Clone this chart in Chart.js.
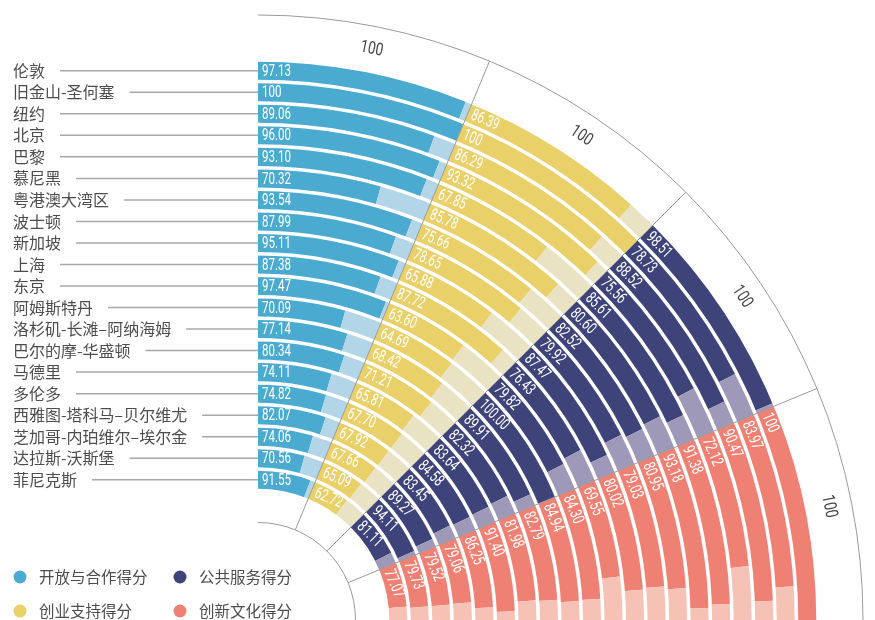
<!DOCTYPE html>
<html><head><meta charset="utf-8">
<script src="https://cdn.jsdelivr.net/npm/chart.js@4"></script>
<style>html,body{margin:0;padding:0;background:#fff;} #wrap{position:relative;width:875px;height:620px;}</style>
</head><body><div id="wrap"><canvas id="c" width="875" height="620"></canvas></div>
<script>
const cities = ['伦敦','旧金山-圣何塞','纽约','北京','巴黎','慕尼黑','粤港澳大湾区','波士顿','新加坡','上海','东京','阿姆斯特丹','洛杉矶-长滩–阿纳海姆','巴尔的摩-华盛顿','马德里','多伦多','西雅图-塔科马–贝尔维尤','芝加哥-内珀维尔–埃尔金','达拉斯-沃斯堡','菲尼克斯'];
const openness = ['97.13','100','89.06','96.00','93.10','70.32','93.54','87.99','95.11','87.38','97.47','70.09','77.14','80.34','74.11','74.82','82.07','74.06','70.56','91.55'];
const startup = ['86.39','100','86.29','93.32','67.85','85.78','75.66','78.65','65.88','87.72','63.60','64.69','68.42','71.21','65.81','67.70','67.92','67.66','65.09','62.72'];
const publicService = ['98.51','78.73','88.52','75.56','85.61','80.60','82.52','79.92','87.47','76.43','79.82','100.00','89.91','82.32','83.64','84.58','83.45','89.27','94.11','81.11'];
const innovation = ['100','83.97','90.47','72.12','91.38','93.18','80.95','79.03','80.02','69.55','84.30','84.94','82.79','81.98','91.40','86.25','79.06','79.52','79.73','77.07'];
const seriesNames = ['开放与合作得分','创业支持得分','公共服务得分','创新文化得分'];
const sectorMaxLabels = ['100','100','100','100'];
const SECTOR_MAX = 100;

const colors = ['#4BAACF','#E9D068','#3E4479','#EF8174'];
const lightColors = ['#B2D5E7','#E9E2C3','#9E99B8','#F5C2B5'];
const series = [openness, startup, publicService, innovation];

const datasets = cities.map((city, i) => {
  const data = [], bg = [];
  series.forEach((s, k) => {
    const v = Number(s[i]);
    data.push(v, SECTOR_MAX - v);
    bg.push(colors[k], lightColors[k]);
  });
  return { label: city, data, backgroundColor: bg, borderWidth: 0, hoverOffset: 0 };
});

const NUM_FONT = '16.5px "Roboto", "Liberation Sans", sans-serif';
const NUM_SQUEEZE = 0.7;
const CJK_FONT = '"Noto Sans CJK SC", "Noto Sans", sans-serif';

const decor = {
  id: 'decor',
  afterDatasetsDraw(chart) {
    const ctx = chart.ctx;
    const metas = chart.data.datasets.map((d, i) => chart.getDatasetMeta(i));
    const first = metas[0].data;
    const cx = first[0].x, cy = first[0].y;
    const Rout = first[0].outerRadius;
    const Rin = metas[metas.length - 1].data[0].innerRadius;
    const a0 = first[0].startAngle, a1 = first[7].endAngle;
    const outerArcR = Rout + 45, innerArcR = Rin - 32;
    ctx.save();
    // white gaps between rings
    ctx.strokeStyle = '#fff';
    ctx.lineWidth = 3.5;
    const bounds = metas.map(m => m.data[0].outerRadius).concat([Rin]);
    bounds.forEach(r => { ctx.beginPath(); ctx.arc(cx, cy, r, a0, a1); ctx.stroke(); });
    // outer & inner guide arcs
    ctx.strokeStyle = '#9a9a9a';
    ctx.lineWidth = 1;
    [outerArcR, innerArcR].forEach(r => { ctx.beginPath(); ctx.arc(cx, cy, r, a0, a1); ctx.stroke(); });
    // sector separators
    for (let k = 1; k < 4; k++) {
      const a = first[2 * k].startAngle;
      ctx.beginPath();
      ctx.moveTo(cx + innerArcR * Math.cos(a), cy + innerArcR * Math.sin(a));
      ctx.lineTo(cx + outerArcR * Math.cos(a), cy + outerArcR * Math.sin(a));
      ctx.stroke();
    }
    // "100" sector max labels
    ctx.fillStyle = '#444';
    ctx.font = '17.5px "Roboto", "Liberation Sans", sans-serif';
    ctx.textAlign = 'center';
    ctx.textBaseline = 'middle';
    for (let k = 0; k < 4; k++) {
      const a = (first[2 * k].startAngle + first[2 * k + 1].endAngle) / 2;
      const r = Rout + 22;
      ctx.save();
      ctx.translate(cx + r * Math.cos(a), cy + r * Math.sin(a));
      ctx.rotate(a + Math.PI / 2);
      ctx.scale(0.78, 1);
      ctx.fillText(sectorMaxLabels[k], 0, 0);
      ctx.restore();
    }
    // value labels
    ctx.fillStyle = '#fff';
    ctx.font = NUM_FONT;
    ctx.textAlign = 'left';
    metas.forEach((m, i) => {
      for (let k = 0; k < 4; k++) {
        const el = m.data[2 * k];
        const rm = (el.innerRadius + el.outerRadius) / 2;
        const a = el.startAngle + 4 / rm;
        ctx.save();
        ctx.translate(cx + rm * Math.cos(a), cy + rm * Math.sin(a));
        ctx.rotate(el.startAngle + Math.PI / 2);
        ctx.scale(NUM_SQUEEZE, 1);
        ctx.fillText(series[k][i], 0, 1);
        ctx.restore();
      }
    });
    // city labels with leader lines
    ctx.font = '16px ' + CJK_FONT;
    ctx.textBaseline = 'middle';
    metas.forEach((m, i) => {
      const el = m.data[0];
      const rm = (el.innerRadius + el.outerRadius) / 2;
      const y = cy - rm;
      ctx.fillStyle = '#4d4d4d';
      ctx.fillText(cities[i], 13, y);
      const w = ctx.measureText(cities[i]).width;
      ctx.strokeStyle = '#a8a8a8';
      ctx.lineWidth = 1.5;
      ctx.beginPath();
      ctx.moveTo(13 + w + 15, y);
      ctx.lineTo(cx, y);
      ctx.stroke();
    });
    // legend
    const legendPos = [[20, 577], [20, 611], [180, 577], [180, 611]];
    ctx.font = '15.5px ' + CJK_FONT;
    [0, 1, 2, 3].forEach((k, j) => {
      const [lx, ly] = legendPos[j];
      ctx.fillStyle = colors[k];
      ctx.beginPath();
      ctx.arc(lx, ly, 6.5, 0, Math.PI * 2);
      ctx.fill();
      ctx.fillStyle = '#4d4d4d';
      ctx.fillText(seriesNames[k], lx + 19, ly);
    });
    ctx.restore();
  }
};

new Chart(document.getElementById('c'), {
  type: 'doughnut',
  data: { labels: ['', '', '', '', '', '', '', ''], datasets },
  options: {
    responsive: false,
    animation: false,
    events: [],
    devicePixelRatio: 1,
    rotation: 0,
    circumference: 90,
    cutout: '23.125%',
    layout: { padding: { left: 258, top: 60, right: 57, bottom: 0 } },
    plugins: { legend: { display: false }, tooltip: { enabled: false } }
  },
  plugins: [decor]
});
</script>
</body></html>
